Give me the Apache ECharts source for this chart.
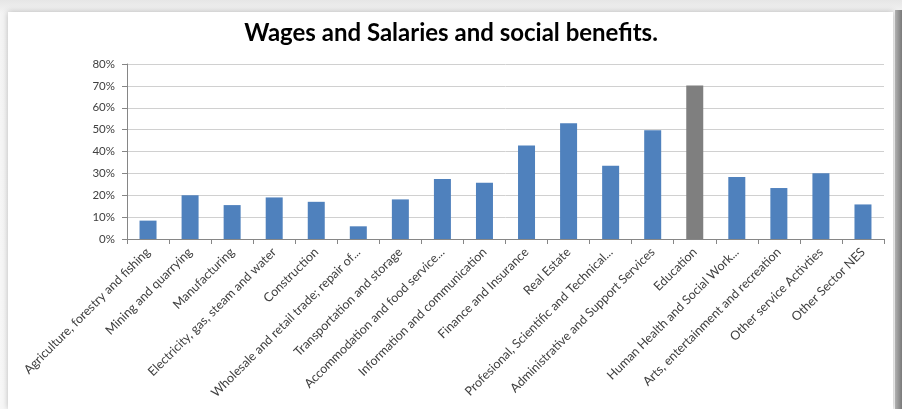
<!DOCTYPE html>
<html>
<head>
<meta charset="utf-8">
<script src="https://cdn.jsdelivr.net/npm/echarts@6/dist/echarts.min.js"></script>
<style>
  html, body { margin: 0; padding: 0; width: 902px; height: 409px; overflow: hidden;
    background: linear-gradient(#e6e6e6, #f4f4f4 14px, #f7f7f7); }
  #frame { position: absolute; left: 8px; top: 12px; width: 885px; height: 397px; background: #fff;
    box-shadow: 0 0 6px rgba(0,0,0,0.25); }
  #edge { position: absolute; left: 895px; top: 10px; width: 7px; height: 399px;
    background: linear-gradient(90deg, #b0b0b0, #7a7a7a); }
  #bar-chart { position: absolute; left: 0; top: 0; width: 902px; height: 409px; }
</style>
</head>
<body>
<div id="frame"></div>
<div id="edge"></div>
<div id="bar-chart"></div>
<script>
let titleText = "Wages and Salaries and social benefits.";
let sectors = ['Agriculture, forestry and fishing', 'Mining and quarrying', 'Manufacturing',
    'Electricity, gas, steam and water', 'Construction', 'Wholesale and retail trade; repair of...',
    'Transportation and storage', 'Accommodation and food service...', 'Information and communication',
    'Finance and Insurance', 'Real Estate', 'Profesional, Scientific and Technical...',
    'Administrative and Support Services', 'Education', 'Human Health and Social Work...',
    'Arts, entertainment and recreation', 'Other service Activties', 'Other Sector NES'];
let shares = [8.4, 20, 15.5, 19, 17, 5.8, 18.1, 27.4, 25.7, 42.8, 52.9, 33.5, 49.7, 70.2, 28.3, 23.3, 30.1, 15.8];
let highlightSector = 'Education';
let yTicks = [0, 10, 20, 30, 40, 50, 60, 70, 80];

let chart = echarts.init(document.getElementById("bar-chart"));

let data = [];
for (let i = 0; i < sectors.length; i++) {
    data.push({
        value: shares[i],
        itemStyle: { color: sectors[i] === highlightSector ? '#7f7f7f' : '#4f81bd' }
    });
}

let option = {
    animation: false,
    textStyle: { fontFamily: 'Lato' },
    title: {
        text: titleText,
        left: 'center',
        top: 16,
        textStyle: { fontFamily: 'Lato', fontWeight: 'bold', fontSize: 24, color: '#000' }
    },
    grid: { left: 127, right: 18, top: 64, bottom: 170 },
    xAxis: {
        type: 'category',
        data: sectors,
        axisLine: { lineStyle: { color: '#868686' } },
        axisTick: { show: true, alignWithLabel: false, length: 5, lineStyle: { color: '#868686' } },
        axisLabel: {
            interval: 0,
            rotate: 45,
            margin: 11,
            fontSize: 12.5,
            color: '#404040'
        }
    },
    yAxis: {
        type: 'value',
        min: yTicks[0],
        max: yTicks[yTicks.length - 1],
        interval: 10,
        axisLine: { show: true, lineStyle: { color: '#868686' } },
        axisTick: { show: true, length: 5, lineStyle: { color: '#868686' } },
        axisLabel: { formatter: '{value}%', fontSize: 11.5, color: '#404040', margin: 12 },
        splitLine: { lineStyle: { color: '#d0d0d0' } }
    },
    series: [{
        type: 'bar',
        barWidth: 17,
        data: data
    }]
};
chart.setOption(option);
</script>
</body>
</html>
